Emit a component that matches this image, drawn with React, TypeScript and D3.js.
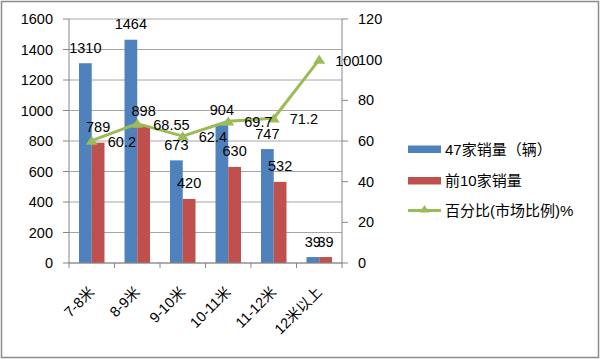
import React from "react";
import * as d3 from "d3";

const categories = ["7-8米", "8-9米", "9-10米", "10-11米", "11-12米", "12米以上"];
const sales47 = [1310, 1464, 673, 904, 747, 39];
const salesTop10 = [789, 898, 420, 630, 532, 39];
const percent = [60.2, 68.55, 62.4, 69.7, 71.2, 100];
const leftTicks = [0, 200, 400, 600, 800, 1000, 1200, 1400, 1600];
const rightTicks = [0, 20, 40, 60, 80, 100, 120];
const seriesNames = ["47家销量（辆）", "前10家销量", "百分比(市场比例)%"];

const BLUE = "#4F81BD";
const RED = "#C0504D";
const GREEN = "#9BBB59";
const FONT = "'Liberation Sans', Arial, 'Noto Sans CJK SC', sans-serif";
const CJK = "'Liberation Sans', 'Noto Sans CJK SC', sans-serif";

const W = 600, H = 359;
const plot = { left: 69, right: 342, top: 19, bottom: 263 };

export default function App() {
  const x = d3.scaleBand<string>().domain(categories).range([plot.left, plot.right]).paddingInner(0).paddingOuter(0);
  const yL = d3.scaleLinear().domain([0, 1600]).range([plot.bottom, plot.top]);
  const yR = d3.scaleLinear().domain([0, 120]).range([plot.bottom, plot.top]);
  const bw = x.bandwidth() * 0.28;
  const cx = (c: string) => (x(c) as number) + x.bandwidth() / 2;

  const line = d3.line<number>()
    .x((_, i) => cx(categories[i]))
    .y((d) => yR(d));

  const tri = (px: number, py: number, s = 6) =>
    `M${px},${py - s * 0.8} L${px + s},${py + s * 0.7} L${px - s},${py + s * 0.7} Z`;

  const grid = "#A6A6A6";
  const axisC = "#868686";

  return (
    <svg width={W} height={H} style={{ position: "absolute", left: 0, top: 0, background: "#fff" }} fontFamily={FONT}>
      <rect x={1.5} y={1.5} width={W - 3} height={H - 3} fill="#fff" stroke="#8C8C8C" strokeWidth={1.5} />
      {/* gridlines */}
      {leftTicks.map((t) => (
        <line key={"g" + t} x1={plot.left} x2={plot.right} y1={yL(t)} y2={yL(t)} stroke={grid} strokeWidth={1} />
      ))}
      {/* left axis */}
      <line x1={plot.left} x2={plot.left} y1={plot.top} y2={plot.bottom} stroke={axisC} />
      {leftTicks.map((t) => (
        <g key={"l" + t}>
          <line x1={plot.left - 6} x2={plot.left} y1={yL(t)} y2={yL(t)} stroke={axisC} />
          <text x={53} y={yL(t) + 5} textAnchor="end" fontSize={14.5} fill="#000">{t}</text>
        </g>
      ))}
      {/* right axis */}
      <line x1={plot.right} x2={plot.right} y1={plot.top} y2={plot.bottom} stroke={axisC} />
      {rightTicks.map((t) => (
        <g key={"r" + t}>
          <line x1={plot.right} x2={plot.right + 6} y1={yR(t)} y2={yR(t)} stroke={axisC} />
          <text x={358} y={yR(t) + 5} textAnchor="start" fontSize={14.5} fill="#000">{t}</text>
        </g>
      ))}
      {/* bars */}
      {categories.map((c, i) => {
        const c0 = cx(c);
        return (
          <g key={"b" + c}>
            <rect x={c0 - bw} y={yL(sales47[i])} width={bw} height={plot.bottom - yL(sales47[i])} fill={BLUE} />
            <rect x={c0} y={yL(salesTop10[i])} width={bw} height={plot.bottom - yL(salesTop10[i])} fill={RED} />
          </g>
        );
      })}
      {/* x axis */}
      <line x1={plot.left} x2={plot.right} y1={plot.bottom} y2={plot.bottom} stroke={axisC} />
      {d3.range(categories.length + 1).map((i) => {
        const xx = plot.left + i * x.bandwidth();
        return <line key={"xt" + i} x1={xx} x2={xx} y1={plot.bottom} y2={plot.bottom + 5} stroke={axisC} />;
      })}
      {categories.map((c) => (
        <text key={"xl" + c} transform={`translate(${cx(c) + 3.5},${plot.bottom + 30}) rotate(-45)`} textAnchor="end"
          fontSize={14.5} fontFamily={CJK} fill="#000">{c}</text>
      ))}
      {/* line */}
      <path d={line(percent) as string} fill="none" stroke={GREEN} strokeWidth={3} strokeLinejoin="round" />
      {percent.map((p, i) => (
        <path key={"m" + i} d={tri(cx(categories[i]), yR(p))} fill={GREEN} />
      ))}
      {/* bar labels */}
      {categories.map((c, i) => {
        const c0 = cx(c);
        return (
          <g key={"bl" + c} fontSize={14.5} fill="#000">
            <text x={c0 - bw / 2} y={yL(sales47[i]) - 10.5} textAnchor="middle">{sales47[i]}</text>
            <text x={c0 + bw / 2} y={yL(salesTop10[i]) - 10.5} textAnchor="middle">{salesTop10[i]}</text>
          </g>
        );
      })}
      {/* percent labels */}
      {percent.map((p, i) => (
        <text key={"pl" + i} x={cx(categories[i]) + 16} y={yR(p) + 6} fontSize={14.5} fill="#000">{p}</text>
      ))}
      {/* legend */}
      <g fontFamily={CJK} fontSize={15} fill="#000">
        <rect x={408} y={145.5} width={33} height={7.5} fill={BLUE} />
        <text x={445} y={154.5}>{seriesNames[0]}</text>
        <rect x={408} y={177} width={33} height={7.5} fill={RED} />
        <text x={445} y={186}>{seriesNames[1]}</text>
        <line x1={408} x2={441} y1={210.5} y2={210.5} stroke={GREEN} strokeWidth={3} />
        <path d={tri(424.5, 209, 5)} fill={GREEN} />
        <text x={445} y={216}>{seriesNames[2]}</text>
      </g>
    </svg>
  );
}
